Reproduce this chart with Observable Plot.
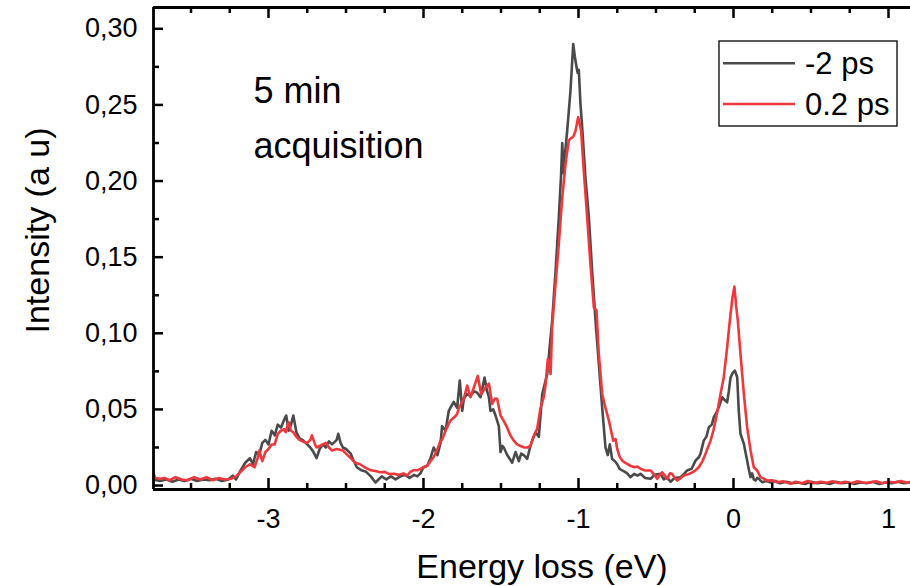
<!DOCTYPE html>
<html><head><meta charset="utf-8">
<script src="https://cdn.jsdelivr.net/npm/d3@7"></script>
<script src="https://cdn.jsdelivr.net/npm/@observablehq/plot@0.6"></script>
<style>html,body{margin:0;padding:0;background:#fff;}#chart{width:910px;height:586px;overflow:hidden;}</style>
</head><body><div id="chart"></div>
<script>
// ---- data ----
const seriesNames = ["-2 ps", "0.2 ps"];
const seriesColors = ["#4a4a4a", "#f0383c"];

const energyNeg2 = [-3.742,-3.70,-3.66,-3.62,-3.58,-3.54,-3.50,-3.46,-3.42,-3.38,-3.34,-3.30,-3.26,-3.23,-3.21,-3.18,-3.15,-3.12,-3.10,-3.08,-3.06,-3.04,-3.02,-3.00,-2.98,-2.96,-2.94,-2.92,-2.90,-2.886,-2.87,-2.855,-2.84,-2.82,-2.80,-2.78,-2.76,-2.73,-2.71,-2.69,-2.67,-2.65,-2.63,-2.61,-2.59,-2.56,-2.55,-2.535,-2.52,-2.50,-2.47,-2.45,-2.43,-2.40,-2.37,-2.34,-2.31,-2.29,-2.27,-2.24,-2.21,-2.18,-2.15,-2.12,-2.09,-2.06,-2.04,-2.02,-2.00,-1.976,-1.955,-1.934,-1.91,-1.89,-1.88,-1.858,-1.837,-1.805,-1.783,-1.766,-1.75,-1.74,-1.72,-1.697,-1.675,-1.654,-1.632,-1.606,-1.59,-1.578,-1.568,-1.55,-1.535,-1.514,-1.503,-1.49,-1.482,-1.46,-1.44,-1.428,-1.406,-1.385,-1.37,-1.353,-1.331,-1.31,-1.299,-1.277,-1.256,-1.234,-1.215,-1.202,-1.185,-1.17,-1.148,-1.127,-1.112,-1.105,-1.095,-1.085,-1.073,-1.052,-1.034,-1.024,-1.013,-1.005,-0.998,-0.987,-0.976,-0.955,-0.933,-0.912,-0.89,-0.869,-0.847,-0.826,-0.811,-0.798,-0.783,-0.765,-0.75,-0.735,-0.718,-0.70,-0.686,-0.665,-0.64,-0.62,-0.60,-0.57,-0.535,-0.51,-0.471,-0.45,-0.43,-0.406,-0.38,-0.342,-0.32,-0.299,-0.27,-0.245,-0.224,-0.213,-0.192,-0.175,-0.159,-0.14,-0.127,-0.11,-0.095,-0.073,-0.055,-0.041,-0.03,-0.019,-0.005,0.009,0.024,0.034,0.045,0.067,0.077,0.088,0.10,0.11,0.12,0.131,0.142,0.153,0.163,0.185,0.21,0.24,0.27,0.30,0.34,0.38,0.42,0.46,0.50,0.54,0.58,0.62,0.66,0.70,0.74,0.78,0.82,0.86,0.90,0.94,0.98,1.02,1.06,1.10,1.142];
const intensityNeg2 = [0.004,0.003,0.004,0.0025,0.004,0.003,0.0045,0.003,0.004,0.0035,0.0045,0.003,0.004,0.0065,0.004,0.010,0.015,0.018,0.014,0.022,0.020,0.028,0.030,0.027,0.036,0.033,0.040,0.038,0.043,0.046,0.036,0.040,0.046,0.035,0.031,0.030,0.028,0.025,0.022,0.018,0.024,0.027,0.025,0.029,0.027,0.030,0.034,0.028,0.025,0.024,0.021,0.016,0.012,0.010,0.009,0.006,0.002,0.004,0.006,0.004,0.006,0.004,0.006,0.007,0.005,0.007,0.006,0.008,0.012,0.013,0.018,0.025,0.020,0.028,0.039,0.036,0.049,0.055,0.051,0.069,0.049,0.057,0.060,0.059,0.062,0.061,0.058,0.071,0.062,0.058,0.049,0.050,0.046,0.039,0.022,0.026,0.025,0.020,0.017,0.015,0.022,0.016,0.021,0.020,0.0175,0.026,0.0295,0.035,0.032,0.060,0.068,0.073,0.092,0.108,0.141,0.176,0.205,0.225,0.205,0.220,0.233,0.259,0.290,0.282,0.275,0.271,0.273,0.250,0.235,0.202,0.176,0.141,0.108,0.080,0.051,0.025,0.020,0.027,0.0175,0.016,0.014,0.011,0.010,0.009,0.008,0.0055,0.0077,0.0065,0.0077,0.005,0.0044,0.007,0.0077,0.004,0.0055,0.0025,0.005,0.0055,0.0075,0.0099,0.011,0.0164,0.0186,0.0208,0.0295,0.032,0.0383,0.040,0.0449,0.048,0.0514,0.058,0.056,0.0547,0.062,0.071,0.074,0.0755,0.071,0.049,0.034,0.0274,0.022,0.0164,0.010,0.0055,0.008,0.004,0.0033,0.005,0.0044,0.0022,0.003,0.002,0.003,0.0015,0.0025,0.0015,0.002,0.001,0.0025,0.0015,0.002,0.001,0.0025,0.0015,0.002,0.001,0.002,0.0015,0.0025,0.001,0.002,0.0015,0.0025,0.0015,0.002];

const energyPos02 = [-3.742,-3.73,-3.70,-3.67,-3.64,-3.60,-3.56,-3.52,-3.48,-3.44,-3.40,-3.36,-3.32,-3.28,-3.24,-3.21,-3.18,-3.15,-3.12,-3.09,-3.07,-3.06,-3.04,-3.02,-3.00,-2.98,-2.96,-2.94,-2.92,-2.90,-2.89,-2.87,-2.855,-2.84,-2.82,-2.80,-2.78,-2.75,-2.73,-2.72,-2.70,-2.69,-2.67,-2.65,-2.63,-2.61,-2.59,-2.56,-2.52,-2.50,-2.47,-2.44,-2.41,-2.38,-2.34,-2.31,-2.28,-2.25,-2.22,-2.19,-2.16,-2.13,-2.105,-2.085,-2.065,-2.04,-2.02,-2.00,-1.976,-1.955,-1.935,-1.91,-1.89,-1.88,-1.858,-1.84,-1.826,-1.80,-1.783,-1.77,-1.74,-1.718,-1.697,-1.675,-1.65,-1.628,-1.60,-1.578,-1.557,-1.54,-1.525,-1.503,-1.48,-1.46,-1.44,-1.418,-1.396,-1.374,-1.35,-1.331,-1.31,-1.288,-1.267,-1.245,-1.224,-1.212,-1.198,-1.188,-1.18,-1.17,-1.148,-1.127,-1.105,-1.084,-1.063,-1.05,-1.034,-1.019,-1.002,-0.983,-0.966,-0.944,-0.923,-0.901,-0.884,-0.869,-0.847,-0.826,-0.804,-0.776,-0.761,-0.75,-0.735,-0.718,-0.70,-0.686,-0.665,-0.64,-0.62,-0.60,-0.57,-0.535,-0.51,-0.492,-0.475,-0.46,-0.44,-0.428,-0.41,-0.396,-0.38,-0.363,-0.34,-0.32,-0.29,-0.266,-0.245,-0.224,-0.20,-0.181,-0.165,-0.148,-0.13,-0.116,-0.10,-0.084,-0.063,-0.041,-0.030,-0.019,-0.006,0.006,0.017,0.028,0.045,0.067,0.088,0.10,0.11,0.131,0.153,0.174,0.195,0.217,0.25,0.282,0.32,0.368,0.40,0.44,0.48,0.52,0.56,0.60,0.64,0.68,0.72,0.76,0.80,0.84,0.88,0.92,0.96,1.00,1.04,1.08,1.12,1.142];
const intensityPos02 = [0.008,0.005,0.0045,0.005,0.0035,0.0055,0.004,0.0035,0.0055,0.004,0.0055,0.0035,0.005,0.004,0.0045,0.006,0.009,0.012,0.014,0.012,0.018,0.023,0.016,0.022,0.024,0.027,0.027,0.034,0.036,0.037,0.035,0.0416,0.036,0.035,0.032,0.030,0.029,0.028,0.030,0.033,0.027,0.025,0.026,0.027,0.028,0.025,0.023,0.024,0.023,0.021,0.018,0.015,0.014,0.012,0.010,0.0095,0.0087,0.009,0.0075,0.0077,0.007,0.008,0.0066,0.009,0.010,0.010,0.011,0.012,0.013,0.016,0.0186,0.024,0.0295,0.030,0.036,0.040,0.0427,0.045,0.047,0.0514,0.057,0.0657,0.058,0.0645,0.072,0.060,0.0645,0.067,0.0536,0.057,0.057,0.046,0.042,0.038,0.033,0.0295,0.027,0.026,0.025,0.025,0.026,0.0328,0.037,0.051,0.058,0.0668,0.083,0.078,0.0733,0.104,0.1324,0.1587,0.189,0.211,0.2265,0.228,0.229,0.233,0.242,0.233,0.207,0.176,0.1456,0.117,0.115,0.0865,0.060,0.051,0.0427,0.0295,0.0306,0.024,0.019,0.0164,0.015,0.0142,0.013,0.012,0.0125,0.011,0.0099,0.0099,0.007,0.0044,0.007,0.0087,0.006,0.0044,0.008,0.0077,0.005,0.0033,0.005,0.0066,0.0075,0.0087,0.010,0.012,0.016,0.0208,0.025,0.0295,0.036,0.0427,0.051,0.060,0.071,0.0908,0.102,0.1127,0.124,0.1307,0.118,0.1083,0.0865,0.060,0.0383,0.030,0.023,0.012,0.0099,0.0055,0.0045,0.0033,0.0035,0.0022,0.0028,0.0011,0.0025,0.0015,0.003,0.0015,0.0025,0.0018,0.0028,0.0015,0.0025,0.0015,0.0028,0.0018,0.002,0.0028,0.0015,0.0025,0.002,0.003,0.0018,0.0025];

const xMajorTicks = [-3, -2, -1, 0, 1];
const xMinorTicks = [-3.5, -3.25, -2.75, -2.5, -2.25, -1.75, -1.5, -1.25, -0.75, -0.5, -0.25, 0.25, 0.5, 0.75];
const yMajorTicks = [0, 0.05, 0.10, 0.15, 0.20, 0.25, 0.30];
const yMinorTicks = [0.025, 0.075, 0.125, 0.175, 0.225, 0.275];
const xDomain = [-3.742, 1.142];
const yDomain = [-0.0026, 0.314];
const xTitle = "Energy loss (eV)";
const yTitle = "Intensity (a u)";
const annotation = "5 min\nacquisition";

// ---- build tables ----
const rowsNeg2 = energyNeg2.map((e, i) => ({energy: e, intensity: intensityNeg2[i]}));
const rowsPos02 = energyPos02.map((e, i) => ({energy: e, intensity: intensityPos02[i]}));

const W = 910, H = 586, mL = 153, mR = 0, mT = 7, mB = 97;
const pW = W - mL - mR, pH = H - mT - mB;
const font = "'Liberation Sans', Arial, Helvetica, sans-serif";
const axisStroke = 2.5;

const chart = Plot.plot({
  width: W, height: H,
  marginLeft: mL, marginRight: mR, marginTop: mT, marginBottom: mB,
  style: {fontFamily: font, background: "#fff", color: "#000"},
  x: {domain: xDomain},
  y: {domain: yDomain},
  marks: [
    Plot.line(rowsNeg2, {x: "energy", y: "intensity", stroke: seriesColors[0], strokeWidth: 2.6, strokeLinejoin: "round"}),
    Plot.line(rowsPos02, {x: "energy", y: "intensity", stroke: seriesColors[1], strokeWidth: 2.6, strokeLinejoin: "round"}),
    // inward ticks: bottom
    Plot.ruleX(xMajorTicks, {insetTop: pH - 11, stroke: "#000", strokeWidth: axisStroke}),
    Plot.ruleX(xMinorTicks, {insetTop: pH - 6, stroke: "#000", strokeWidth: axisStroke}),
    // top
    Plot.ruleX(xMajorTicks, {insetBottom: pH - 11, stroke: "#000", strokeWidth: axisStroke}),
    Plot.ruleX(xMinorTicks, {insetBottom: pH - 6, stroke: "#000", strokeWidth: axisStroke}),
    // left
    Plot.ruleY(yMajorTicks, {insetRight: pW - 10, stroke: "#000", strokeWidth: axisStroke}),
    Plot.ruleY(yMinorTicks, {insetRight: pW - 6, stroke: "#000", strokeWidth: axisStroke}),
    // frame lines
    Plot.ruleX([xDomain[0]], {stroke: "#000", strokeWidth: 2.8}),
    Plot.ruleY([yDomain[0]], {stroke: "#000", strokeWidth: 2.8}),
    Plot.ruleY([yDomain[1]], {stroke: "#000", strokeWidth: 2.8}),
    // tick labels
    Plot.axisX(xMajorTicks, {anchor: "bottom", tickSize: 0, tickPadding: 19, tickFormat: d => String(d), fontSize: 27, label: null}),
    Plot.axisY(yMajorTicks, {anchor: "left", tickSize: 0, tickPadding: 16, tickFormat: d => d.toFixed(2).replace(".", ","), fontSize: 27, label: null}),
    // axis titles
    Plot.text([xTitle], {frameAnchor: "bottom", textAnchor: "middle", dx: 10, dy: 88, lineAnchor: "bottom", fontSize: 34, fill: "#000"}),
    Plot.text([yTitle], {frameAnchor: "left", textAnchor: "middle", rotate: -90, dx: -105, dy: -18, lineAnchor: "bottom", fontSize: 34, fill: "#000"}),
    // annotation
    Plot.text([annotation], {frameAnchor: "top-left", textAnchor: "start", lineAnchor: "top", dx: 100, dy: 56, lineHeight: 1.53, fontSize: 36, fill: "#000"})
  ]
});

document.getElementById("chart").appendChild(chart);

// legend
const svg = d3.select(chart);
const lg = svg.append("g").attr("font-family", font).attr("font-size", 31).attr("text-anchor", "start");
lg.append("rect").attr("x", 719).attr("y", 41).attr("width", 178).attr("height", 85)
  .attr("fill", "#fff").attr("stroke", "#000").attr("stroke-width", 1.3);
seriesNames.forEach((name, i) => {
  const cy = 63.3 + i * 40.7;
  lg.append("line").attr("x1", 723).attr("x2", 795).attr("y1", cy).attr("y2", cy)
    .attr("stroke", seriesColors[i]).attr("stroke-width", 2.6);
  lg.append("text").attr("x", 805).attr("y", cy).attr("dy", "0.35em").attr("fill", "#000").text(name);
});
</script>
</body></html>
